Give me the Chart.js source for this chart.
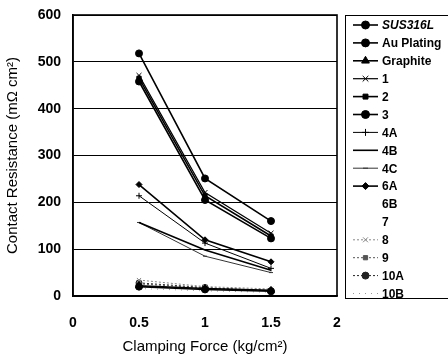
<!DOCTYPE html>
<html><head><meta charset="utf-8">
<script src="https://cdn.jsdelivr.net/npm/chart.js@4/dist/chart.umd.min.js"></script>
<style>html,body{margin:0;padding:0;background:#fff}</style>
</head><body>
<canvas id="c" width="448" height="356"></canvas>
<script>
const forces = [0.5, 1, 1.5];
const xTicks = [0, 0.5, 1, 1.5, 2];
const yTicks = [0, 100, 200, 300, 400, 500, 600];
const seriesNames = ['SUS316L','Au Plating','Graphite','1','2','3','4A','4B','4C','6A','6B','7','8','9','10A','10B'];
const sus316l   = [518, 251, 160];
const auPlating = [20, 14, 10];
const graphite  = [22, 16, 12];
const s1  = [471, 221, 134];
const s2  = [465, 214, 128];
const s3  = [458, 205, 123];
const s4A = [214, 113, 59];
const s4B = [157, 98, 55];
const s4C = [157, 85, 50];
const s6A = [238, 120, 73];
const s6B = [null, null, null];
const s7  = [null, null, null];
const s8  = [34, 20, 15];
const s9  = [26, 17, 12];
const s10A = [28, 18, 11];
const s10B = [16, 11, 8];
const seriesValues = [sus316l, auPlating, graphite, s1, s2, s3, s4A, s4B, s4C, s6A, s6B, s7, s8, s9, s10A, s10B];

const styles = [
  {ps:'circle', r:3.5, bw:1.6, c:'#000', dash:[]},
  {ps:'circle', r:3.5, bw:1.6, c:'#000', dash:[]},
  {ps:'triangle', r:4, bw:1.6, c:'#000', dash:[]},
  {ps:'crossRot', r:3.5, bw:1.2, c:'#000', dash:[]},
  {ps:'rect', r:3, bw:1.6, c:'#000', dash:[]},
  {ps:'circle', r:3.5, bw:1.6, c:'#000', dash:[]},
  {ps:'cross', r:3, bw:1, c:'#000', dash:[]},
  {ps:false, r:0, bw:1.6, c:'#000', dash:[]},
  {ps:'line', r:2, bw:1, c:'#333', dash:[]},
  {ps:'rectRot', r:3, bw:1.6, c:'#000', dash:[]},
  {ps:false, r:0, bw:0, c:'rgba(0,0,0,0)', dash:[]},
  {ps:false, r:0, bw:0, c:'rgba(0,0,0,0)', dash:[]},
  {ps:'crossRot', r:3, bw:1, c:'#888', dash:[2,2]},
  {ps:'rect', r:2.5, bw:1, c:'#555', dash:[2,2]},
  {ps:'circle', r:3, bw:1, c:'#222', dash:[2,2]},
  {ps:false, r:0, bw:1, c:'#999', dash:[1,5]}
];

const datasets = seriesNames.map((n, i) => ({
  label: n,
  data: forces.map((x, j) => ({x, y: seriesValues[i][j]})),
  borderColor: styles[i].c,
  backgroundColor: styles[i].c,
  borderWidth: styles[i].bw,
  borderDash: styles[i].dash,
  pointStyle: styles[i].ps,
  pointRadius: styles[i].r,
  pointBorderWidth: 1,
  tension: 0,
  spanGaps: false
}));

const legendPlugin = {
  id: 'customLegend',
  afterDraw(chart) {
    const ctx = chart.ctx;
    ctx.save();
    ctx.strokeStyle = '#000';
    ctx.lineWidth = 1;
    ctx.strokeRect(345.5, 15.5, 110, 283);
    chart.data.datasets.forEach((ds, i) => {
      const y = 25 + i * 17.9;
      ctx.save();
      ctx.strokeStyle = ds.borderColor;
      ctx.lineWidth = Math.max(ds.borderWidth, 0);
      ctx.setLineDash(ds.borderDash || []);
      if (ds.borderWidth > 0) {
        ctx.beginPath(); ctx.moveTo(353, y); ctx.lineTo(378, y); ctx.stroke();
      }
      ctx.setLineDash([]);
      if (ds.pointStyle && ds.pointRadius > 0) {
        ctx.fillStyle = ds.backgroundColor;
        ctx.lineWidth = 1;
        Chart.helpers.drawPoint(ctx, {pointStyle: ds.pointStyle, radius: ds.pointRadius + 0.5, borderWidth: 1}, 365.5, y);
      }
      ctx.restore();
      ctx.fillStyle = '#000';
      ctx.font = (i === 0 ? 'italic ' : '') + 'bold 12px "Liberation Sans", Arial, sans-serif';
      ctx.textBaseline = 'middle';
      ctx.textAlign = 'left';
      ctx.fillText(ds.label, 382, y + 1);
    });
    ctx.restore();
  }
};

const framePlugin = {
  id: 'frame',
  afterDatasetsDraw(chart) {
    const a = chart.chartArea, ctx = chart.ctx;
    ctx.save();
    ctx.strokeStyle = '#000';
    ctx.lineWidth = 1.6;
    ctx.strokeRect(a.left, a.top, a.right - a.left, a.bottom - a.top);
    ctx.restore();
  }
};

const fam = '"Liberation Sans", Arial, sans-serif';
const tickFont = {family: fam, size: 14, weight: 'bold'};

new Chart(document.getElementById('c'), {
  type: 'line',
  data: {datasets},
  options: {
    responsive: false,
    animation: false,
    layout: {padding: {left: 0, right: 111, top: 15, bottom: 0}},
    plugins: {legend: {display: false}, tooltip: {enabled: false}},
    scales: {
      x: {
        type: 'linear', min: 0, max: 2,
        afterBuildTicks: s => { s.ticks = xTicks.map(v => ({value: v})); },
        afterFit: s => { s.height = 60; s.paddingLeft = 0; s.paddingRight = 0; },
        grid: {display: false, drawTicks: false},
        border: {display: true, color: '#000', width: 1.6},
        ticks: {color: '#000', font: tickFont, padding: 19, maxRotation: 0, callback: v => String(v)},
        title: {display: true, text: 'Clamping Force (kg/cm²)', color: '#000', font: {family: fam, size: 15}, padding: {top: 0, bottom: 0}}
      },
      y: {
        min: 0, max: 600,
        afterBuildTicks: s => { s.ticks = yTicks.map(v => ({value: v})); },
        afterFit: s => { s.width = 73; s.paddingTop = 0; s.paddingBottom = 0; },
        grid: {color: '#000', lineWidth: 1, drawTicks: false},
        border: {display: true, color: '#000', width: 1.6},
        ticks: {color: '#000', font: tickFont, padding: 12, callback: v => String(v)},
        title: {display: true, text: 'Contact Resistance (mΩ cm²)', color: '#000', font: {family: fam, size: 15}, padding: {top: 4, bottom: 0}}
      }
    }
  },
  plugins: [framePlugin, legendPlugin]
});
</script>
</body></html>
